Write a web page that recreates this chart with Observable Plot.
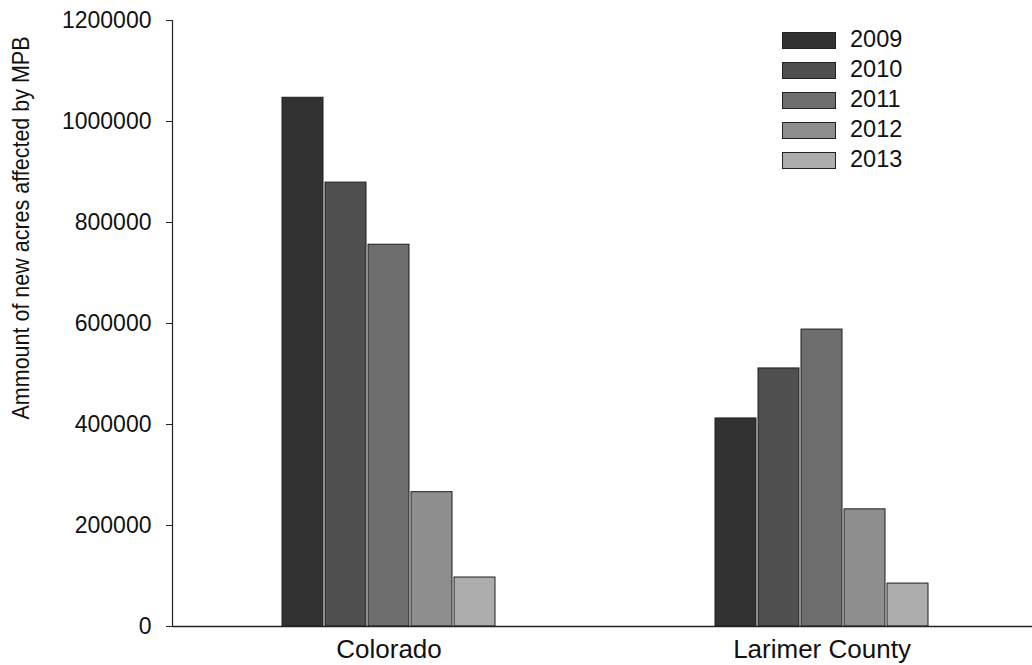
<!DOCTYPE html>
<html><head><meta charset="utf-8">
<script src="https://cdn.jsdelivr.net/npm/d3@7"></script>
<script src="https://cdn.jsdelivr.net/npm/@observablehq/plot@0.6"></script>
<style>
body{margin:0;background:#fff;font-family:"Liberation Sans",Arial,sans-serif;}
#wrap{position:relative;width:1032px;height:665px;overflow:hidden;}
#legend{position:absolute;left:782px;top:25px;}
.row{display:flex;align-items:center;height:30px;}
.sw{width:52px;height:15px;border:1px solid #222;margin-right:14px;}
.lt{font-size:23.5px;color:#111;line-height:1;}
</style></head><body><div id="wrap"><div id="legend"></div></div>
<script>
const regions = ["Colorado", "Larimer County"];
const years = ["2009", "2010", "2011", "2012", "2013"];
const colorado = [1047000, 879000, 756000, 266000, 97000];
const larimer = [412000, 511000, 588000, 232000, 85000];
const colors = ["#323232", "#4f4f4f", "#6e6e6e", "#8e8e8e", "#adadad"];
const yTicks = [0, 200000, 400000, 600000, 800000, 1000000, 1200000];
const yLabel = "Ammount of new acres affected by MPB";

const data = [
  ...years.map((y, i) => ({region: regions[0], year: y, value: colorado[i]})),
  ...years.map((y, i) => ({region: regions[1], year: y, value: larimer[i]}))
];

const chart = Plot.plot({
  width: 1032, height: 665,
  marginLeft: 171, marginRight: -6, marginTop: 20, marginBottom: 39,
  style: {fontFamily: '"Liberation Sans", Arial, sans-serif', fontSize: "22px", color: "#111", background: "#fff", overflow: "visible"},
  fx: {domain: regions, padding: 0, label: null},
  x: {domain: years, paddingInner: 0.05, paddingOuter: 2.5, axis: null},
  y: {domain: [0, 1200000]},
  color: {domain: years, range: colors},
  marks: [
    Plot.barY(data, {fx: "region", x: "year", y: "value", fill: "year", stroke: "#1e1e1e", strokeWidth: 1}),
    Plot.ruleY([0], {stroke: "#222", strokeWidth: 1.5}),
    Plot.frame({anchor: "left", fx: "Colorado", stroke: "#222", strokeWidth: 1.2}),
    Plot.axisY({ticks: yTicks, tickFormat: d => String(d), tickSize: 6, tickPadding: 15, label: null, fontSize: 23, stroke: "#222"}),
    Plot.axisFx({anchor: "bottom", tickSize: 0, tickPadding: 13, label: null, fontSize: 26})
  ]
});
document.getElementById("wrap").prepend(chart);

// y axis title
const svgNS = "http://www.w3.org/2000/svg";
const lab = document.createElementNS(svgNS, "text");
lab.textContent = yLabel;
lab.setAttribute("font-size", "21.5");
lab.setAttribute("fill", "#111");
lab.setAttribute("text-anchor", "middle");
lab.setAttribute("transform", "translate(29,228) rotate(-90) scale(1,1.12)");
chart.append(lab);

// legend
const leg = document.getElementById("legend");
years.forEach((y, i) => {
  const row = document.createElement("div");
  row.className = "row";
  const sw = document.createElement("div");
  sw.className = "sw";
  sw.style.background = colors[i];
  const t = document.createElement("span");
  t.className = "lt";
  t.textContent = y;
  row.append(sw, t);
  leg.append(row);
});
</script></body></html>
